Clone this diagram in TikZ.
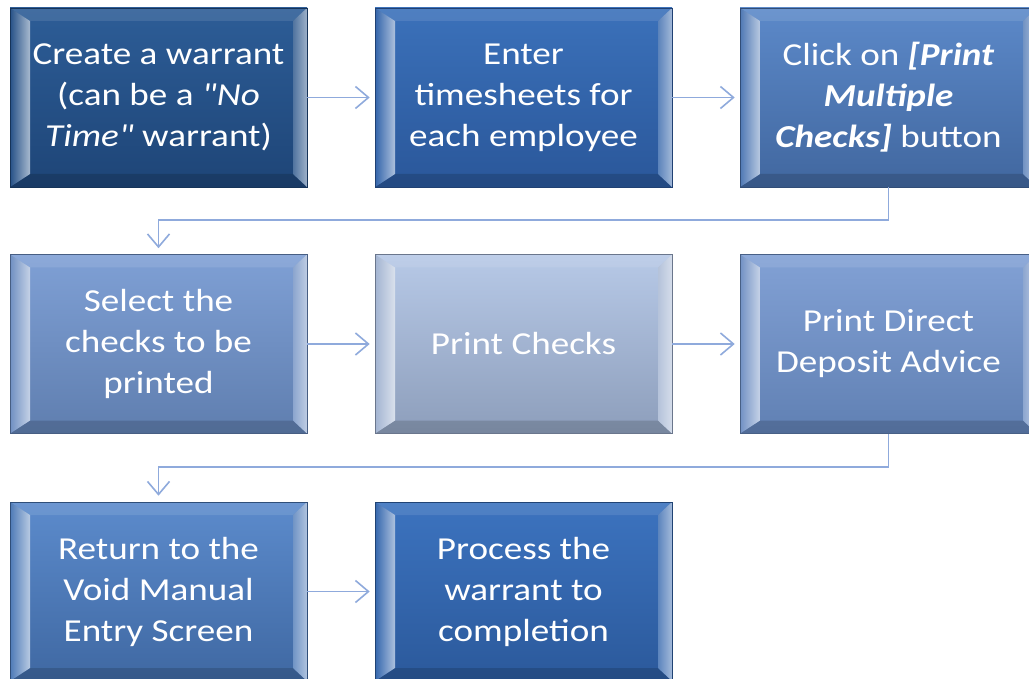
\documentclass[tikz,border=0pt]{standalone}
\usepackage{fontspec}
\setmainfont{Carlito}[FakeStretch=1.16, Ligatures=TeXOff]
\usetikzlibrary{arrows.meta,backgrounds}
\definecolor{aT}{HTML}{2D5D97}\definecolor{aB}{HTML}{1E4577}
\definecolor{bT}{HTML}{3B71BA}\definecolor{bB}{HTML}{2A579A}
\definecolor{cT}{HTML}{5C89C9}\definecolor{cB}{HTML}{41679F}
\definecolor{dT}{HTML}{7FA0D5}\definecolor{dB}{HTML}{5F7EAF}
\definecolor{eT}{HTML}{B7C9E7}\definecolor{eB}{HTML}{8D9EBB}
\definecolor{fT}{HTML}{82A1D5}\definecolor{fB}{HTML}{6080B3}
\definecolor{gT}{HTML}{5C8BCC}\definecolor{gB}{HTML}{3F68A2}
\definecolor{hT}{HTML}{3C73BF}\definecolor{hB}{HTML}{2B599B}
\definecolor{connc}{HTML}{8FAADC}
\tikzset{
  stepbox/.style 2 args={
    minimum width=297pt, minimum height=179pt, inner sep=0pt,
    top color=#1, bottom color=#2, draw=#2!75!black, line width=0.6pt,
    text=white, align=center, font=\fontsize{32}{41}\selectfont,
    path picture={
      \coordinate (pNW) at (path picture bounding box.north west);
      \coordinate (pNE) at (path picture bounding box.north east);
      \coordinate (pSW) at (path picture bounding box.south west);
      \coordinate (pSE) at (path picture bounding box.south east);
      \coordinate (iNW) at ([xshift=20pt,yshift=-13pt]pNW);
      \coordinate (iNE) at ([xshift=-14pt,yshift=-13pt]pNE);
      \coordinate (iSW) at ([xshift=20pt,yshift=13pt]pSW);
      \coordinate (iSE) at ([xshift=-14pt,yshift=13pt]pSE);
      \fill[white,opacity=0.10] (pNW)--(pNE)--(iNE)--(iNW)--cycle;
      \fill[black,opacity=0.15] (pSW)--(pSE)--(iSE)--(iSW)--cycle;
      \shade[left color=#1!50!#2, right color=#1!50!#2!40!white] (pNW)--(iNW)--(iSW)--(pSW)--cycle;
      \shade[left color=#1!50!#2!80!white, right color=#1!50!#2!45!white] (iNE)--(pNE)--(pSE)--(iSE)--cycle;
    }
  },
  conn/.style={draw=connc, line width=1.6pt,
    -{Straight Barb[length=13pt,width=22pt,line width=1.6pt]}},
  shadowrect/.style={fill=black, opacity=#1}
}
\begin{document}
\begin{tikzpicture}[x=1pt,y=-1pt]
\clip (0,0) rectangle (1029,679);
\fill[white] (0,0) rectangle (1029,679);
\node[stepbox={aT}{aB}] (a) at (158.5,97.5) {Create a warrant\\(can be a \textit{"No}\\\textit{Time"} warrant)};
\node[stepbox={bT}{bB}] (b) at (523.5,97.5) {Enter\\timesheets for\\each employee};
\node[stepbox={cT}{cB}] (c) at (888.5,97.5) {Click on \textbf{\textit{[Print}}\\\textbf{\textit{Multiple}}\\\textbf{\textit{Checks]}} button};
\node[stepbox={dT}{dB}] (d) at (158.5,344) {Select the\\checks to be\\printed};
\node[stepbox={eT}{eB}] (e) at (523.5,344) {Print Checks};
\node[stepbox={fT}{fB}] (f) at (888.5,344) {Print Direct\\Deposit Advice};
\node[stepbox={gT}{gB}] (g) at (158.5,591.5) {Return to the\\Void Manual\\Entry Screen};
\node[stepbox={hT}{hB}] (h) at (523.5,591.5) {Process the\\warrant to\\completion};
\begin{scope}[on background layer]
\foreach \n in {a,b,c,d,e,f,g,h}{
  \fill[shadowrect=0.10] ([xshift=0pt,yshift=-6pt]\n.south west) rectangle ([xshift=3pt,yshift=-6pt]\n.north east);
  \fill[shadowrect=0.15] ([xshift=1pt,yshift=-4pt]\n.south west) rectangle ([xshift=2pt,yshift=-4pt]\n.north east);
  \fill[shadowrect=0.20] ([xshift=1pt,yshift=-2pt]\n.south west) rectangle ([xshift=1pt,yshift=-2pt]\n.north east);
}
\end{scope}
\draw[conn, shorten >=5pt] (a.east) -- (b.west);
\draw[conn, shorten >=5pt] (b.east) -- (c.west);
\draw[conn, shorten >=5pt] (d.east) -- (e.west);
\draw[conn, shorten >=5pt] (e.east) -- (f.west);
\draw[conn, shorten >=5pt] (g.east) -- (h.west);
\draw[conn, shorten >=6pt] (c.south) -- ++(0,33) -| (d.north);
\draw[conn, shorten >=6pt] (f.south) -- ++(0,33) -| (g.north);
\end{tikzpicture}
\end{document}
